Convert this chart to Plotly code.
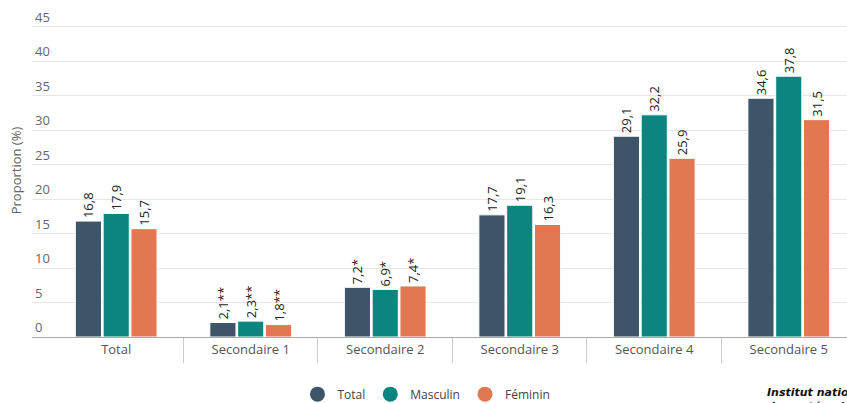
import plotly.graph_objects as go

categories = ['Total', 'Secondaire 1', 'Secondaire 2', 'Secondaire 3',
              'Secondaire 4', 'Secondaire 5']
total = [16.8, 2.1, 7.2, 17.7, 29.1, 34.6]
masculin = [17.9, 2.3, 6.9, 19.1, 32.2, 37.8]
feminin = [15.7, 1.8, 7.4, 16.3, 25.9, 31.5]
# qualité des estimations (astérisques)
flags = ['', '**', '*', '', '', '']

series = [
    ('Total', total, '#3e5569'),
    ('Masculin', masculin, '#0a857f'),
    ('Féminin', feminin, '#e17852'),
]


def fmt(v, f):
    return ('%.1f' % v).replace('.', ',') + f


fig = go.Figure()
for name, vals, col in series:
    fig.add_trace(go.Bar(
        x=categories, y=vals, name=name, showlegend=False,
        marker=dict(color=col, line=dict(color='white', width=1)),
        text=[fmt(v, f) for v, f in zip(vals, flags)],
        textposition='outside', textangle=-90, constraintext='none',
        textfont=dict(family='Open Sans', size=13, color='#222'),
        cliponaxis=False,
    ))

# légende avec pastilles rondes
for name, vals, col in series:
    fig.add_trace(go.Scatter(
        x=[None], y=[None], mode='markers', name=name,
        marker=dict(symbol='circle', size=15, color=col),
    ))

fig.update_layout(
    width=847, height=403,
    margin=dict(l=32, r=0, t=4, b=66, autoexpand=False),
    paper_bgcolor='white', plot_bgcolor='white',
    font=dict(family='Open Sans', size=13, color='#555'),
    barmode='group', bargap=0.38, bargroupgap=0.06,
    showlegend=True,
    legend=dict(orientation='h', x=0.484, xanchor='center',
                yref='container', y=0.022, yanchor='middle',
                font=dict(size=12, color='#444'),
                itemwidth=30, tracegroupgap=0),
    xaxis=dict(
        type='category', range=[-0.626, 5.433], automargin=False,
        showline=True, linecolor='#aaaaaa', linewidth=1,
        ticks='outside', tickson='boundaries', ticklen=25,
        tickcolor='#cccccc',
        tickfont=dict(size=13, color='#555'),
        showgrid=False,
    ),
    yaxis=dict(
        range=[0, 48.26], dtick=5, tick0=0, automargin=False,
        showgrid=True, gridcolor='#e6e6e6', zeroline=False,
        showline=False, ticks='',
        ticklabelposition='inside top',
        tickfont=dict(size=13, color='#666'),
        title=dict(text='Proportion (%)', standoff=10,
                   font=dict(size=13, color='#666')),
    ),
)

fig.add_annotation(
    xref='paper', yref='paper', x=(765 - 32) / 815, y=-0.14,
    xanchor='left', yanchor='top', showarrow=False, align='left',
    text='<b><i>Institut national<br>de santé publique</i></b>',
    font=dict(family='DejaVu Sans', size=11, color='#111'),
)

fig.write_html('out.html', config={'displayModeBar': False},
               post_script="document.body.style.margin='0';")
